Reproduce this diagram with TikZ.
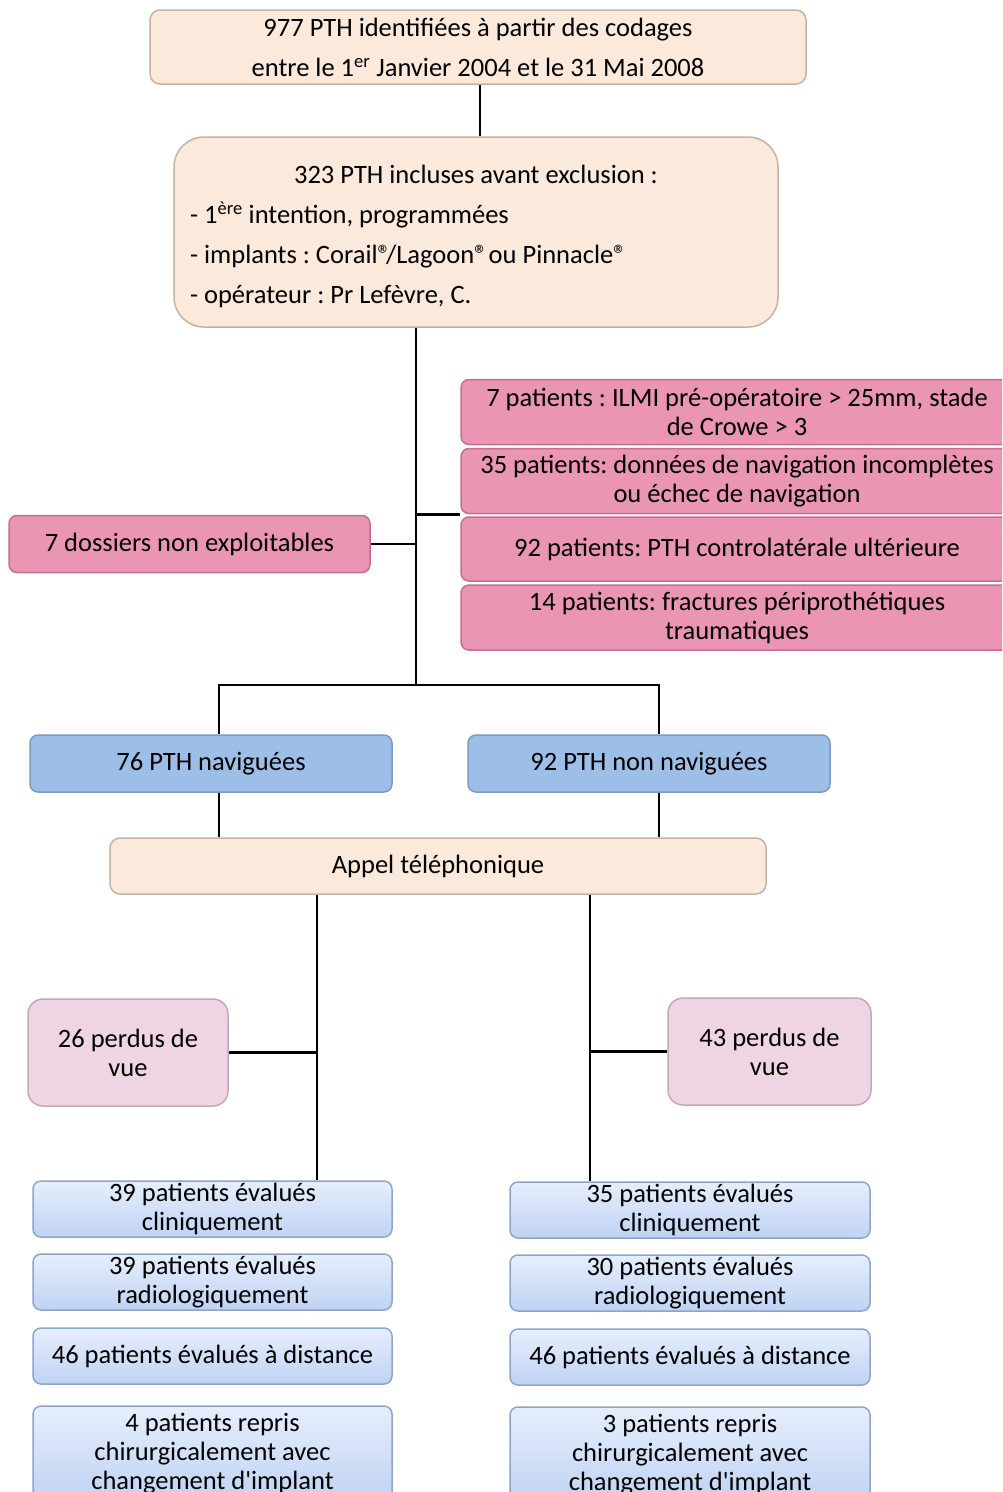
\documentclass[tikz,border=0pt]{standalone}
\usepackage{fontspec}
\setmainfont{Carlito}
\frenchspacing
\definecolor{peachF}{HTML}{FBE9DB}
\definecolor{peachD}{HTML}{C4B2A2}
\definecolor{pinkF}{HTML}{EA95B4}
\definecolor{pinkD}{HTML}{C56E90}
\definecolor{lpinkF}{HTML}{EFD4E3}
\definecolor{lpinkD}{HTML}{C4A8B7}
\definecolor{blueF}{HTML}{9DBFE7}
\definecolor{blueD}{HTML}{7D9AC2}
\definecolor{gradT}{HTML}{E6EEFC}
\definecolor{gradB}{HTML}{BFD3F4}
\definecolor{gradD}{HTML}{8DA5CB}
\newcommand{\regmk}{®\kern-5pt}
\begin{document}
\begin{tikzpicture}[x=1pt,y=-1pt,
  every node/.style={font=\fontsize{26.5}{29}\selectfont, inner sep=0pt, align=center},
  peach/.style={draw=peachD, fill=peachF, line width=1.5pt, rounded corners=10pt},
  pinkbox/.style={draw=pinkD, fill=pinkF, line width=1.5pt, rounded corners=8pt},
  lpink/.style={draw=lpinkD, fill=lpinkF, line width=1.5pt, rounded corners=15pt},
  bluebox/.style={draw=blueD, fill=blueF, line width=1.5pt, rounded corners=8pt},
  gradbox/.style={draw=gradD, top color=gradT, bottom color=gradB, line width=1.5pt, rounded corners=8pt},
  conn/.style={draw=black, line width=2.5pt}]
\useasboundingbox (0,0) rectangle (1002,1492);
\clip (0,0) rectangle (1002,1492);

% top boxes
\node[peach, minimum width=656pt, minimum height=74pt, font=\fontsize{26.5}{40}\selectfont] (top) at (478,47)
  {977 PTH identifiées à partir des codages\\entre le 1\textsuperscript{er} Janvier 2004 et le 31 Mai 2008};
\node[peach, rounded corners=30pt, minimum width=604pt, minimum height=190pt] (b2) at (476,232)
  {\begin{minipage}{572pt}\fontsize{26.5}{40}\selectfont
   \vspace*{8pt}
   {\centering 323 PTH incluses avant exclusion :\par}
   \raggedright
   - 1\textsuperscript{ère} intention, programmées\\
   - implants : Corail\regmk/Lagoon\regmk{} ou Pinnacle®\\
   - opérateur : Pr Lefèvre, C.
   \end{minipage}};

% exclusions
\node[pinkbox, minimum width=552pt, minimum height=65pt] (pA) at (737,412)
  {7 patients : ILMI pré-opératoire > 25mm, stade\\de Crowe > 3};
\node[pinkbox, minimum width=552pt, minimum height=65pt] (pB) at (737,481)
  {35 patients: données de navigation incomplètes\\ou échec de navigation};
\node[pinkbox, minimum width=552pt, minimum height=64pt] (pC) at (737,549)
  {92 patients: PTH controlatérale ultérieure};
\node[pinkbox, minimum width=552pt, minimum height=65pt] (pD) at (737,617.5)
  {14 patients: fractures périprothétiques\\traumatiques};
\node[pinkbox, minimum width=361pt, minimum height=57pt] (dos) at (189.5,544)
  {7 dossiers non exploitables};

% groups
\node[bluebox, minimum width=362pt, minimum height=57pt] (nav) at (211,763.5) {76 PTH naviguées};
\node[bluebox, minimum width=362pt, minimum height=57pt] (nnav) at (649,763.5) {92 PTH non naviguées};
\node[peach, minimum width=656pt, minimum height=56pt] (appel) at (438,866) {Appel téléphonique};

% lost to follow-up
\node[lpink, minimum width=200pt, minimum height=107pt] (p1) at (128,1052.5) {26 perdus de\\vue};
\node[lpink, minimum width=203pt, minimum height=107pt] (p2) at (769.5,1051.5) {43 perdus de\\vue};

% results left
\node[gradbox, minimum width=359pt, minimum height=56pt] (l1) at (212.5,1209) {39 patients évalués\\cliniquement};
\node[gradbox, minimum width=359pt, minimum height=56pt] (l2) at (212.5,1282) {39 patients évalués\\radiologiquement};
\node[gradbox, minimum width=359pt, minimum height=56pt] (l3) at (212.5,1356) {46 patients évalués à distance};
\node[gradbox, minimum width=359pt, minimum height=96pt] (l4) at (212.5,1454) {4 patients repris\\chirurgicalement avec\\changement d\textquotesingle implant};
% results right
\node[gradbox, minimum width=360pt, minimum height=56pt] (r1) at (690,1210) {35 patients évalués\\cliniquement};
\node[gradbox, minimum width=360pt, minimum height=56pt] (r2) at (690,1283) {30 patients évalués\\radiologiquement};
\node[gradbox, minimum width=360pt, minimum height=56pt] (r3) at (690,1357) {46 patients évalués à distance};
\node[gradbox, minimum width=360pt, minimum height=96pt] (r4) at (690,1455) {3 patients repris\\chirurgicalement avec\\changement d\textquotesingle implant};

% junction coordinates
\coordinate (spl) at (416,685);
\coordinate (sL) at (219,685);
\coordinate (sR) at (659,685);
\coordinate (cL) at (317,893);
\coordinate (cR) at (590,893);

% connectors
\draw[conn] (top.south -| 480,0) -- (b2.north -| 480,0);
\draw[conn] (b2.south -| spl) -- (spl);
\draw[conn] (pB.south west -| spl) -- (pB.south west);
\draw[conn] (dos.east) -- (dos.east -| spl);
\draw[conn] (nav.north -| sL) -- (sL) -- (sR) -- (nnav.north -| sR);
\draw[conn] (nav.south -| sL) -- (appel.north -| sL);
\draw[conn] (nnav.south -| sR) -- (appel.north -| sR);
\draw[conn] (appel.south -| cL) -- (l1.north -| cL);
\draw[conn] (appel.south -| cR) -- (r1.north -| cR);
\draw[conn] (p1.east) -- (p1.east -| cL);
\draw[conn] (p2.west) -- (p2.west -| cR);
\end{tikzpicture}
\end{document}
